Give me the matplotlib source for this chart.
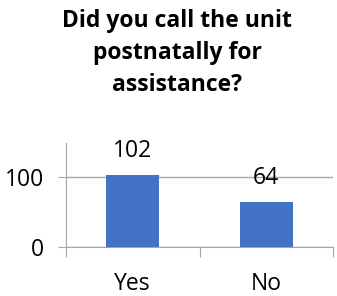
import matplotlib
matplotlib.use("Agg")
import matplotlib.pyplot as plt

categories = ["Yes", "No"]
values = [102, 64]
title = "Did you call the unit\npostnatally for\nassistance?"

W, H = 337, 296
fig = plt.figure(figsize=(W/100, H/100), dpi=100)
plt.rcParams['font.family'] = ['Open Sans', 'DejaVu Sans']
ax = fig.add_axes([66/W, (H-247)/H, (333-66)/W, (247-143)/H])

x = range(len(categories))
bars = ax.bar(x, values, width=0.4, color="#4472C4", zorder=3)
ax.set_xlim(-0.5, 1.5)
ax.set_ylim(0, 148)
ax.set_yticks([0, 100])
ax.set_yticklabels(["0", "100"], fontsize=16.5)
ax.grid(axis="y", color="#A6A6A6", linewidth=1, zorder=0)
for s in ["top", "right"]:
    ax.spines[s].set_visible(False)
for s in ["left", "bottom"]:
    ax.spines[s].set_color("#A6A6A6")
ax.tick_params(axis="y", length=6, color="#A6A6A6", pad=10)
ax.set_xticks([-0.5, 0.5, 1.5])
ax.set_xticklabels([])
ax.set_xticks(list(x), minor=True)
ax.set_xticklabels(categories, minor=True, fontsize=16.5)
ax.tick_params(axis="x", which="major", length=7, color="#A6A6A6")
ax.tick_params(axis="x", which="minor", length=0, pad=18)
for xi, v in zip(x, values):
    ax.annotate(str(v), (xi, v), xytext=(0, 9), textcoords="offset points",
                ha="center", va="bottom", fontsize=16.5)
fig.text(177/W, 1 - 9/H, title, ha="center", va="top", fontsize=16.5,
         fontweight="bold", linespacing=1.45)
fig.savefig("out.png", dpi=100)
